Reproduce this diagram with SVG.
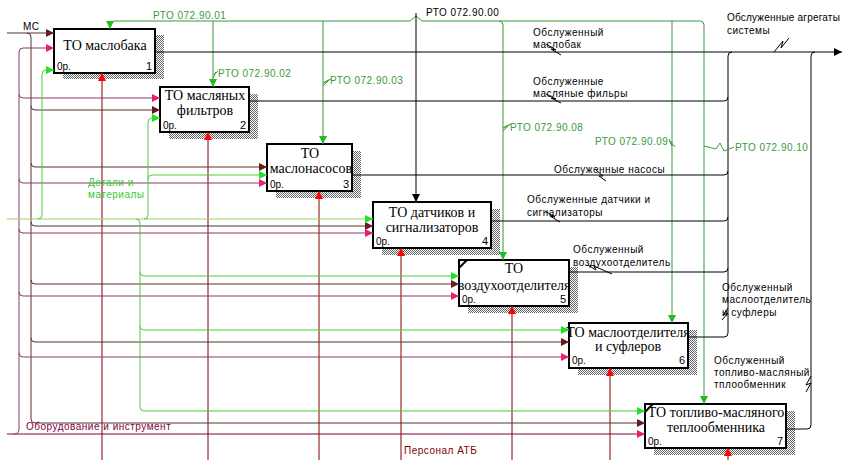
<svg xmlns="http://www.w3.org/2000/svg" width="845" height="460" viewBox="0 0 845 460">
<style>
.t{font-family:"Liberation Sans",Arial,sans-serif;font-size:10px;letter-spacing:0.5px;fill:#000}
.g{fill:#3a9a3a}
.gi{fill:#33cc33}
.bx{font-family:"Liberation Serif","Times New Roman",serif;font-size:14px;text-anchor:middle;fill:#000}
.cost{font-family:"Liberation Sans",Arial,sans-serif;font-size:10px;fill:#000}
.num{font-family:"Liberation Sans",Arial,sans-serif;font-size:11px;text-anchor:end;fill:#000}
.box{fill:#fff;stroke:#000;stroke-width:2}
.sh{fill:url(#hatch)}
.ln{fill:none;stroke-width:1}
.brn{stroke:#5a3030}
.mag{stroke:#8a3a66}
.grn{stroke:#4ccc3a}
.mech{stroke:#800000}
.ctl{stroke:#3a9a3a}
.out{stroke:#000}
.sq{fill:none;stroke-width:1}
</style>
<defs>
<pattern id="hatch" width="2" height="2" patternUnits="userSpaceOnUse">
<rect width="2" height="2" fill="#fff"/>
<rect width="1" height="1" fill="#666"/>
<rect x="1" y="1" width="1" height="1" fill="#666"/>
</pattern>
<marker id="aBrn" markerUnits="userSpaceOnUse" markerWidth="9" markerHeight="8" refX="8" refY="4" orient="auto"><path d="M0,0 L8,4 L0,8 Z" fill="#6a1a1a"/></marker>
<marker id="aMag" markerUnits="userSpaceOnUse" markerWidth="9" markerHeight="8" refX="8" refY="4" orient="auto"><path d="M0,0 L8,4 L0,8 Z" fill="#e8206e"/></marker>
<marker id="aGrn" markerUnits="userSpaceOnUse" markerWidth="9" markerHeight="8" refX="8" refY="4" orient="auto"><path d="M0,0 L8,4 L0,8 Z" fill="#22e022"/></marker>
<marker id="aRed" markerUnits="userSpaceOnUse" markerWidth="9" markerHeight="8" refX="8" refY="4" orient="auto"><path d="M0,0 L8,4 L0,8 Z" fill="#ff0000"/></marker>
<marker id="aCtl" markerUnits="userSpaceOnUse" markerWidth="9" markerHeight="8" refX="8" refY="4" orient="auto"><path d="M0,0 L8,4 L0,8 Z" fill="#22bb22"/></marker>
<marker id="aBlk" markerUnits="userSpaceOnUse" markerWidth="9" markerHeight="8" refX="8" refY="4" orient="auto"><path d="M0,0 L8,4 L0,8 Z" fill="#000"/></marker>
</defs>
<rect width="845" height="460" fill="#fff"/>

<g id="box1">
<rect class="sh" x="63" y="35" width="101" height="44"/>
<rect class="box" x="54" y="29" width="101" height="44"/>
<text class="bx" x="105" y="50">ТО маслобака</text>
<text class="cost" x="57" y="70">0р.</text>
<text class="num" x="152" y="70">1</text>
</g>
<g id="box2">
<rect class="sh" x="169" y="94" width="89" height="45"/>
<rect class="box" x="160" y="87" width="89" height="45"/>
<text class="bx" x="205" y="100">ТО масляных</text>
<text class="bx" x="205" y="115">фильтров</text>
<text class="cost" x="163" y="129">0р.</text>
<text class="num" x="246" y="129">2</text>
</g>
<g id="box3">
<rect class="sh" x="276" y="151" width="85" height="47"/>
<rect class="box" x="267" y="144" width="85" height="47"/>
<text class="bx" x="310" y="158">ТО</text>
<text class="bx" x="311" y="173">маслонасосов</text>
<text class="cost" x="270" y="188">0р.</text>
<text class="num" x="349" y="188">3</text>
</g>
<g id="box4">
<rect class="sh" x="382" y="209" width="118" height="46"/>
<rect class="box" x="373" y="202" width="118" height="46"/>
<text class="bx" x="432" y="217">ТО датчиков и</text>
<text class="bx" x="432" y="232">сигнализаторов</text>
<text class="cost" x="376" y="245">0р.</text>
<text class="num" x="488" y="245">4</text>
</g>
<g id="box5">
<rect class="sh" x="468" y="267" width="110" height="46"/>
<rect class="box" x="459" y="260" width="110" height="46"/>
<path d="M459,268 L467,260" stroke="#000" stroke-width="2"/>
<text class="bx" x="514" y="273">ТО</text>
<text class="bx" x="514" y="290">воздухоотделителя</text>
<text class="cost" x="462" y="303">0р.</text>
<text class="num" x="566" y="303">5</text>
</g>
<g id="box6">
<rect class="sh" x="578" y="330" width="119" height="45"/>
<rect class="box" x="569" y="323" width="119" height="45"/>
<text class="bx" x="628" y="337">ТО маслоотделителя</text>
<text class="bx" x="628" y="351">и суфлеров</text>
<text class="cost" x="572" y="364">0р.</text>
<text class="num" x="685" y="364">6</text>
</g>
<g id="box7">
<rect class="sh" x="654" y="411" width="141" height="44"/>
<rect class="box" x="645" y="404" width="141" height="44"/>
<path d="M645,412 L653,404" stroke="#000" stroke-width="2"/>
<text class="bx" x="716" y="417">ТО топливо-масляного</text>
<text class="bx" x="716" y="432">теплообменника</text>
<text class="cost" x="648" y="445">0р.</text>
<text class="num" x="783" y="445">7</text>
</g>

<g id="connectors">
<!-- mechanisms -->
<g class="ln mech">
<path d="M102,460 V73" marker-end="url(#aRed)"/>
<path d="M208,460 V132" marker-end="url(#aRed)"/>
<path d="M319,460 V191" marker-end="url(#aRed)"/>
<path d="M401,460 V248" marker-end="url(#aRed)"/>
<path d="M512,460 V306" marker-end="url(#aRed)"/>
<path d="M610,460 V368" marker-end="url(#aRed)"/>
<path d="M728,460 V448" marker-end="url(#aRed)"/>
</g>
<!-- brown inputs (МС) -->
<g class="ln brn">
<path d="M7,33 H54" marker-end="url(#aBrn)"/>
<path d="M27,33 Q31,33 31,37 V419 Q31,423 35,423 H645" marker-end="url(#aBrn)"/>
<path d="M31,106 Q31,110 35,110 H160" marker-end="url(#aBrn)"/>
<path d="M31,163 Q31,167 35,167 H267" marker-end="url(#aBrn)"/>
<path d="M31,222 Q31,226 35,226 H373" marker-end="url(#aBrn)"/>
<path d="M31,280 Q31,284 35,284 H459" marker-end="url(#aBrn)"/>
<path d="M31,338 Q31,342 35,342 H569" marker-end="url(#aBrn)"/>
</g>
<!-- magenta inputs (Оборудование и инструмент) -->
<g class="ln mag">
<path d="M7,434 H645" stroke="#800040" marker-end="url(#aMag)"/>
<path d="M14,434 Q19,434 19,429 V52 Q19,48 23,48 H54" marker-end="url(#aMag)"/>
<path d="M19,94 Q19,98 23,98 H160" marker-end="url(#aMag)"/>
<path d="M19,179 Q19,183 23,183 H267" marker-end="url(#aMag)"/>
<path d="M19,229 Q19,233 23,233 H373" marker-end="url(#aMag)"/>
<path d="M19,292 Q19,296 23,296 H459" marker-end="url(#aMag)"/>
<path d="M19,353 Q19,357 23,357 H569" marker-end="url(#aMag)"/>
</g>
<!-- green inputs (Детали и материалы) -->
<g class="ln grn">
<path d="M7,219 H373" stroke="#99d46a" marker-end="url(#aGrn)"/>
<path d="M38,219 Q42,219 42,215 V74 Q42,70 46,70 H54" marker-end="url(#aGrn)"/>
<path d="M144,219 Q148,219 148,215 V122 Q148,118 152,118 H160" marker-end="url(#aGrn)"/>
<path d="M148,179 Q148,175 152,175 H267" marker-end="url(#aGrn)"/>
<path d="M136,219 Q140,219 140,223 V407 Q140,411 144,411 H645" marker-end="url(#aGrn)"/>
<path d="M140,272 Q140,276 144,276 H459" marker-end="url(#aGrn)"/>
<path d="M140,326 Q140,330 144,330 H569" marker-end="url(#aGrn)"/>
</g>
<!-- controls -->
<g class="ln ctl">
<path d="M410,21 H114 Q110,21 110,25 V29" marker-end="url(#aCtl)"/>
<path d="M422,21 H700 Q704,21 704,25 V404" marker-end="url(#aCtl)"/>
<path d="M410,21 L416,16 L422,21"/>
<path d="M213,21 V87" marker-end="url(#aCtl)"/>
<path d="M323,21 V144" marker-end="url(#aCtl)"/>
<path d="M499,21 Q503,21 503,25 V260" marker-end="url(#aCtl)"/>
<path d="M672,21 V323" marker-end="url(#aCtl)"/>
</g>
<path class="ln out" d="M416,13 V202" marker-end="url(#aBlk)"/>
<!-- outputs -->
<g class="ln out">
<path d="M155,52 H842" marker-end="url(#aBlk)"/>
<path d="M249,101 H724 Q728,101 728,97"/>
<path d="M352,175 H724 Q728,175 728,171"/>
<path d="M491,221 H724 Q728,221 728,217"/>
<path d="M568,272 H724 Q728,272 728,268"/>
<path d="M688,337 H724 Q728,337 728,333 V56 Q728,52 732,52"/>
<path d="M786,429 H807 Q811,429 811,425 V56 Q811,52 815,52"/>
</g>
<!-- squiggles -->
<g class="sq" stroke="#000">
<polyline points="774,52 783,41 781,48 789,38"/>
<polyline points="806,392 811,383 806,385 811,376"/>
<polyline points="722,320 728,313 723,315 728,308"/>
<polyline points="546,44 556,50 551,49 561,55"/>
<polyline points="546,94 556,99 551,98 561,103"/>
<polyline points="596,170 603,176 599,176 606,181"/>
<polyline points="545,211 555,217 550,216 560,222"/>
<polyline points="588,265 596,270 594,266 612,274"/>
</g>
<g class="sq" stroke="#3a9a3a">
<polyline points="323,86 329,80 323,83 331,79"/>
<polyline points="503,131 509,125 503,128 511,124"/>
<polyline points="669,139 672,146 670,141 675,147"/>
<polyline points="704,146 716,149 720,143 724,151 734,147"/>
<polyline points="213,78 216,72 214,75 218,71"/>
</g>
</g>

<g id="labels">
<text class="t" x="23" y="30">МС</text>
<text class="t g" x="153" y="19">РТО 072.90.01</text>
<text class="t" x="426" y="16">РТО 072.90.00</text>
<text class="t g" x="218" y="77">РТО 072.90.02</text>
<text class="t g" x="330" y="84">РТО 072.90.03</text>
<text class="t g" x="510" y="131">РТО 072.90.08</text>
<text class="t g" x="595" y="145">РТО 072.90.09</text>
<text class="t g" x="735" y="151">РТО 072.90.10</text>
<text class="t" x="727" y="21" style="letter-spacing:0.2px">Обслуженные агрегаты</text>
<text class="t" x="727" y="34">системы</text>
<text class="t" x="533" y="36">Обслуженный</text>
<text class="t" x="533" y="48">маслобак</text>
<text class="t" x="533" y="85">Обслуженные</text>
<text class="t" x="533" y="97">масляные фильры</text>
<text class="t" x="554" y="173">Обслуженные насосы</text>
<text class="t" x="527" y="203">Обслуженные датчики и</text>
<text class="t" x="527" y="216">сигнализаторы</text>
<text class="t" x="573" y="253">Обслуженный</text>
<text class="t" x="573" y="266">воздухоотделитель</text>
<text class="t" x="722" y="291">Обслуженный</text>
<text class="t" x="722" y="303">маслоотделитель</text>
<text class="t" x="722" y="316">и суфлеры</text>
<text class="t" x="714" y="364">Обслуженный</text>
<text class="t" x="714" y="376">топливо-масляный</text>
<text class="t" x="714" y="388">тплообменник</text>
<text class="t gi" x="88" y="186">Детали и</text>
<text class="t gi" x="88" y="198">материалы</text>
<text class="t" x="26" y="430" style="fill:#800040">Оборудование и инструмент</text>
<text class="t" x="404" y="454" style="fill:#800000">Персонал АТБ</text>
</g>
</svg>
